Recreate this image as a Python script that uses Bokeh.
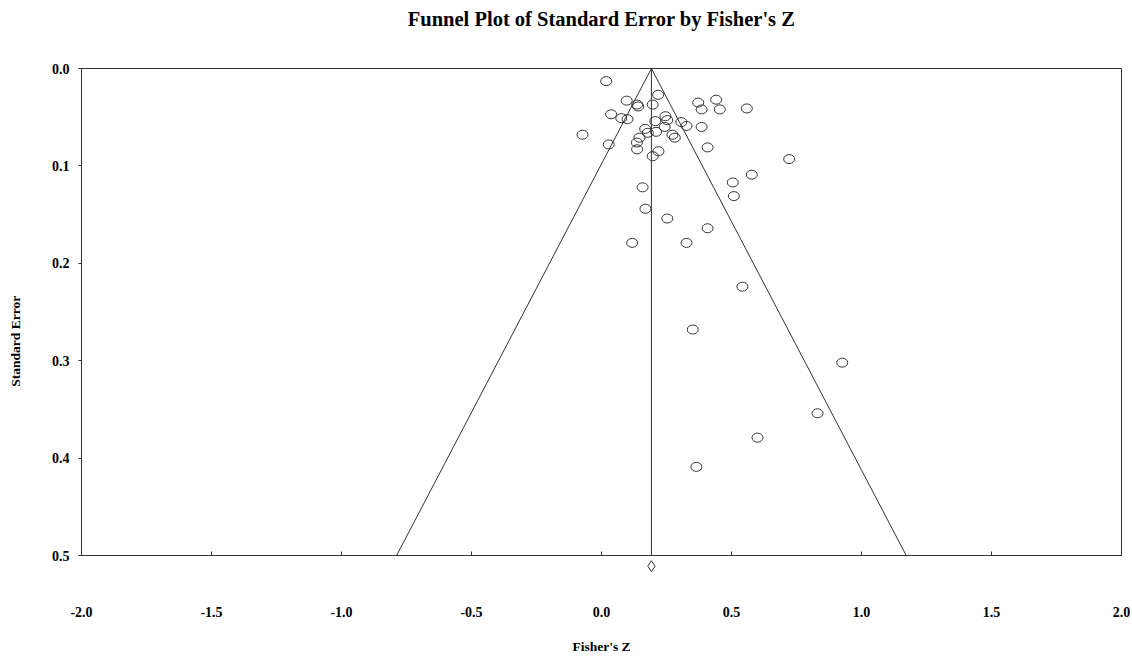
import math
from bokeh.plotting import figure
from bokeh.models import Range1d, FixedTicker, NumeralTickFormatter, Title
from bokeh.core.properties import value
from bokeh.embed import file_html
from bokeh.resources import INLINE

# Study-level data
fisher_z = [0.018, 0.218, 0.097, 0.137, 0.141, 0.197, 0.372, 0.441, 0.385, 0.455,
            0.559, 0.037, 0.076, 0.100, 0.246, 0.253, 0.207, 0.307, 0.327, 0.243,
            0.385, 0.168, 0.210, 0.178, -0.073, 0.273, 0.282, 0.146, 0.136, 0.028,
            0.408, 0.137, 0.219, 0.197, 0.722, 0.578, 0.505, 0.158, 0.509, 0.169,
            0.253, 0.408, 0.118, 0.327, 0.542, 0.351, 0.926, 0.831, 0.600, 0.365]
std_err = [0.013, 0.027, 0.033, 0.037, 0.039, 0.037, 0.035, 0.032, 0.042, 0.042,
           0.041, 0.047, 0.051, 0.052, 0.049, 0.053, 0.054, 0.055, 0.059, 0.060,
           0.060, 0.062, 0.065, 0.066, 0.068, 0.068, 0.071, 0.071, 0.076, 0.078,
           0.081, 0.083, 0.085, 0.090, 0.093, 0.109, 0.117, 0.122, 0.131, 0.144,
           0.154, 0.164, 0.179, 0.179, 0.224, 0.268, 0.302, 0.354, 0.379, 0.409]

pooled_z = 0.192
pooled_marker_se = 0.511
se_max = 0.5
z_crit = 1.96

x_ticks = [-2.0, -1.5, -1.0, -0.5, 0.0, 0.5, 1.0, 1.5, 2.0]
y_ticks = [0.0, 0.1, 0.2, 0.3, 0.4, 0.5]

title_text = "Funnel Plot of Standard Error by Fisher's Z"
x_title = "Fisher's Z"
y_title = "Standard Error"

FONT = "Liberation Serif"
INK = "#333333"

x_min, x_max = x_ticks[0], x_ticks[-1]
y_top, y_bottom = y_ticks[0], y_ticks[-1]

p = figure(width=1132, height=657,
           x_range=Range1d(x_min, x_max), y_range=Range1d(y_bottom, y_top),
           output_backend="svg", toolbar_location=None,
           title=title_text,
           min_border_left=81, min_border_right=11,
           min_border_top=68, min_border_bottom=102)

p.title.align = "center"
p.title.text_font = FONT
p.title.text_font_style = "bold"
p.title.text_font_size = "20.5px"
p.title.text_color = "black"
p.title.standoff = 10

# blank spacer between the title and the frame, so the title sits near the top
p.add_layout(Title(text=" ", text_font_size="20px", standoff=10), "above")

p.outline_line_color = INK
p.outline_line_width = 1
p.xgrid.visible = False
p.ygrid.visible = False
p.background_fill_color = "white"
p.border_fill_color = "white"

for ax in (p.xaxis[0], p.yaxis[0]):
    ax.axis_line_color = INK
    ax.major_tick_line_color = INK
    ax.minor_tick_line_color = None
    ax.major_label_text_font = FONT
    ax.major_label_text_font_style = "bold"
    ax.major_label_text_font_size = "14px"
    ax.major_label_text_color = "black"
    ax.axis_label_text_font = FONT
    ax.axis_label_text_font_style = "bold"
    ax.axis_label_text_font_size = "13.5px"
    ax.axis_label_text_color = "black"
    ax.formatter = NumeralTickFormatter(format="0.0")

p.xaxis.ticker = FixedTicker(ticks=x_ticks)
p.yaxis.ticker = FixedTicker(ticks=y_ticks)
p.xaxis.axis_label = x_title

p.xaxis.major_tick_in = 4
p.xaxis.major_tick_out = 0
p.xaxis.major_label_standoff = 51
p.xaxis.axis_label_standoff = 19

p.yaxis.major_tick_in = 0
p.yaxis.major_tick_out = 3
p.yaxis.major_label_standoff = 9

# Funnel (pseudo 95% limits) and the pooled-effect line
left_edge = pooled_z - z_crit * se_max
right_edge = pooled_z + z_crit * se_max
p.line([left_edge, pooled_z, right_edge], [se_max, 0.0, se_max], line_color=INK, line_width=1)
p.line([pooled_z, pooled_z], [0.0, se_max], line_color=INK, line_width=1)

# Studies
p.ellipse(x=fisher_z, y=std_err, width=11, height=9,
          width_units="screen", height_units="screen",
          fill_color=None, line_color=INK, line_width=1)

# Pooled estimate diamond just below the axis (overlay level, so it is not clipped)
p.scatter(x=[pooled_z], y=[pooled_marker_se], marker="diamond", size=11,
          fill_color=None, line_color=INK, line_width=1, level="overlay")

# Vertical axis title, placed a little below the frame's middle as in the original
p.text(x=[x_min], y=[0.28], text=[y_title], x_offset=-66, angle=math.pi / 2,
       text_align="center", text_baseline="middle",
       text_font=value(FONT), text_font_style="bold", text_font_size="13.5px",
       text_color="black", level="overlay")

open("out.html", "w").write(file_html(p, INLINE))
